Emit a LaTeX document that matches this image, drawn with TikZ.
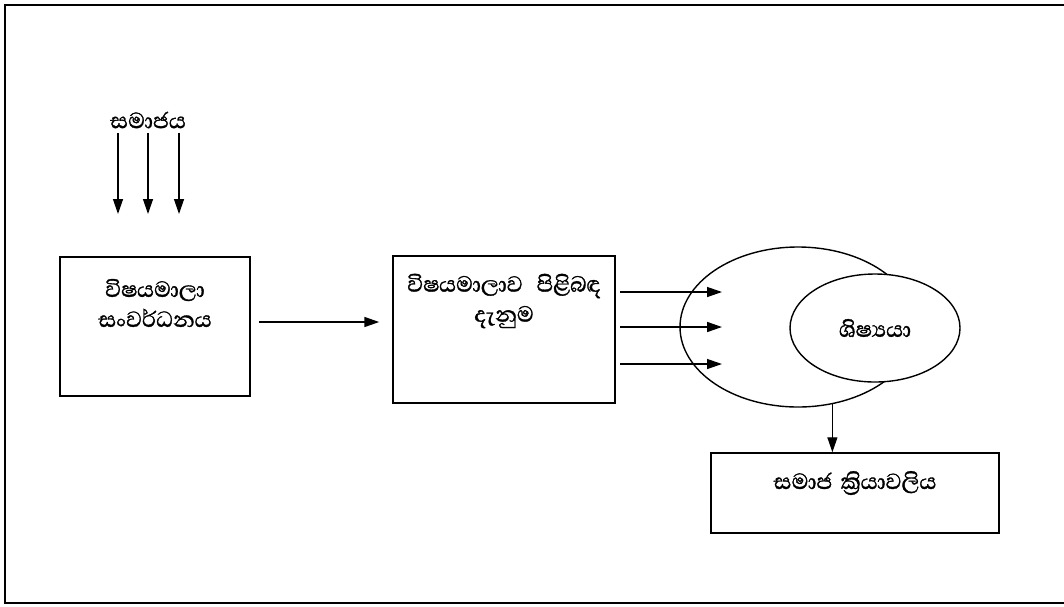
\documentclass[tikz,border=0pt]{standalone}
\usepackage{fontspec}
\newfontfamily\sinhalafont[Script=Sinhala,FakeBold=1.2]{Abhaya Libre}
\usetikzlibrary{arrows.meta,shapes.geometric}
\begin{document}
\begin{tikzpicture}[x=1pt,y=-1pt,
  box/.style={draw,line width=1.5pt,inner sep=0pt},
  lbl/.style={font=\sinhalafont\fontsize{28}{30}\selectfont,align=center,inner sep=0pt},
  arr/.style={line width=1.3pt,-{Triangle[length=15pt,width=10pt]}},
  frame/.style={line width=1.8pt}]
\useasboundingbox (0,0) rectangle (1064,606);
\coordinate (fa) at (1064,5);
\coordinate (fb) at (5,5);
\coordinate (fc) at (5,603);
\coordinate (fd) at (1064,603);
\draw[frame] (fa) -- (fb) -- (fc) -- (fd);
% boxes
\node[box,minimum width=190pt,minimum height=139pt] (b1) at (155,326.5) {};
\node[box,minimum width=222pt,minimum height=147pt] (b2) at (504,329.5) {};
\node[box,minimum width=288pt,minimum height=80pt] (b3) at (855,493) {};
\node[ellipse,draw,line width=1.4pt,minimum width=236pt,minimum height=160pt,inner sep=0pt] (big) at (798,327) {};
\node[ellipse,draw,line width=1.4pt,fill=white,minimum width=170pt,minimum height=108pt,inner sep=0pt] (small) at (875,328) {};
% texts
\node[lbl] (t0) at (148,120) {සමාජය};
\node[lbl] (t1) at (155,303) {විෂයමාලා\\සංවර්ධනය};
\node[lbl] (t2) at (504,301) {විෂයමාලාව\hspace{0.5em}පිළිබඳ\\දැනුම};
\node[lbl] (t3) at (875,328) {ශිෂ්‍යයා};
\node[lbl] (t4) at (855,483) {සමාජ\hspace{0.3em}ක්‍රියාවලිය};
% arrows from society
\coordinate (s1) at (118,133); \coordinate (e1) at (118,214);
\coordinate (s2) at (148,133); \coordinate (e2) at (148,214);
\coordinate (s3) at (179,133); \coordinate (e3) at (179,214);
\draw[arr] (s1) -- (e1);
\draw[arr] (s2) -- (e2);
\draw[arr] (s3) -- (e3);
% box1 -> box2
\draw[arr,line width=1.6pt,shorten <=8pt,shorten >=13pt] ([yshift=4.5pt]b1.east) -- ([yshift=4.5pt]b1.east -| b2.west);
% box2 -> ellipse
\coordinate (r1) at (722,292);
\coordinate (r2) at (722,327);
\coordinate (r3) at (722,364);
\draw[arr,shorten <=4pt] (r1 -| b2.east) -- (r1);
\draw[arr,line width=1.6pt,shorten <=4pt] (r2 -| b2.east) -- (r2);
\draw[arr,shorten <=4pt] (r3 -| b2.east) -- (r3);
% ellipse -> box3
\draw[arr] (big.-66) -- (big.-66 |- b3.north);
\end{tikzpicture}
\end{document}
